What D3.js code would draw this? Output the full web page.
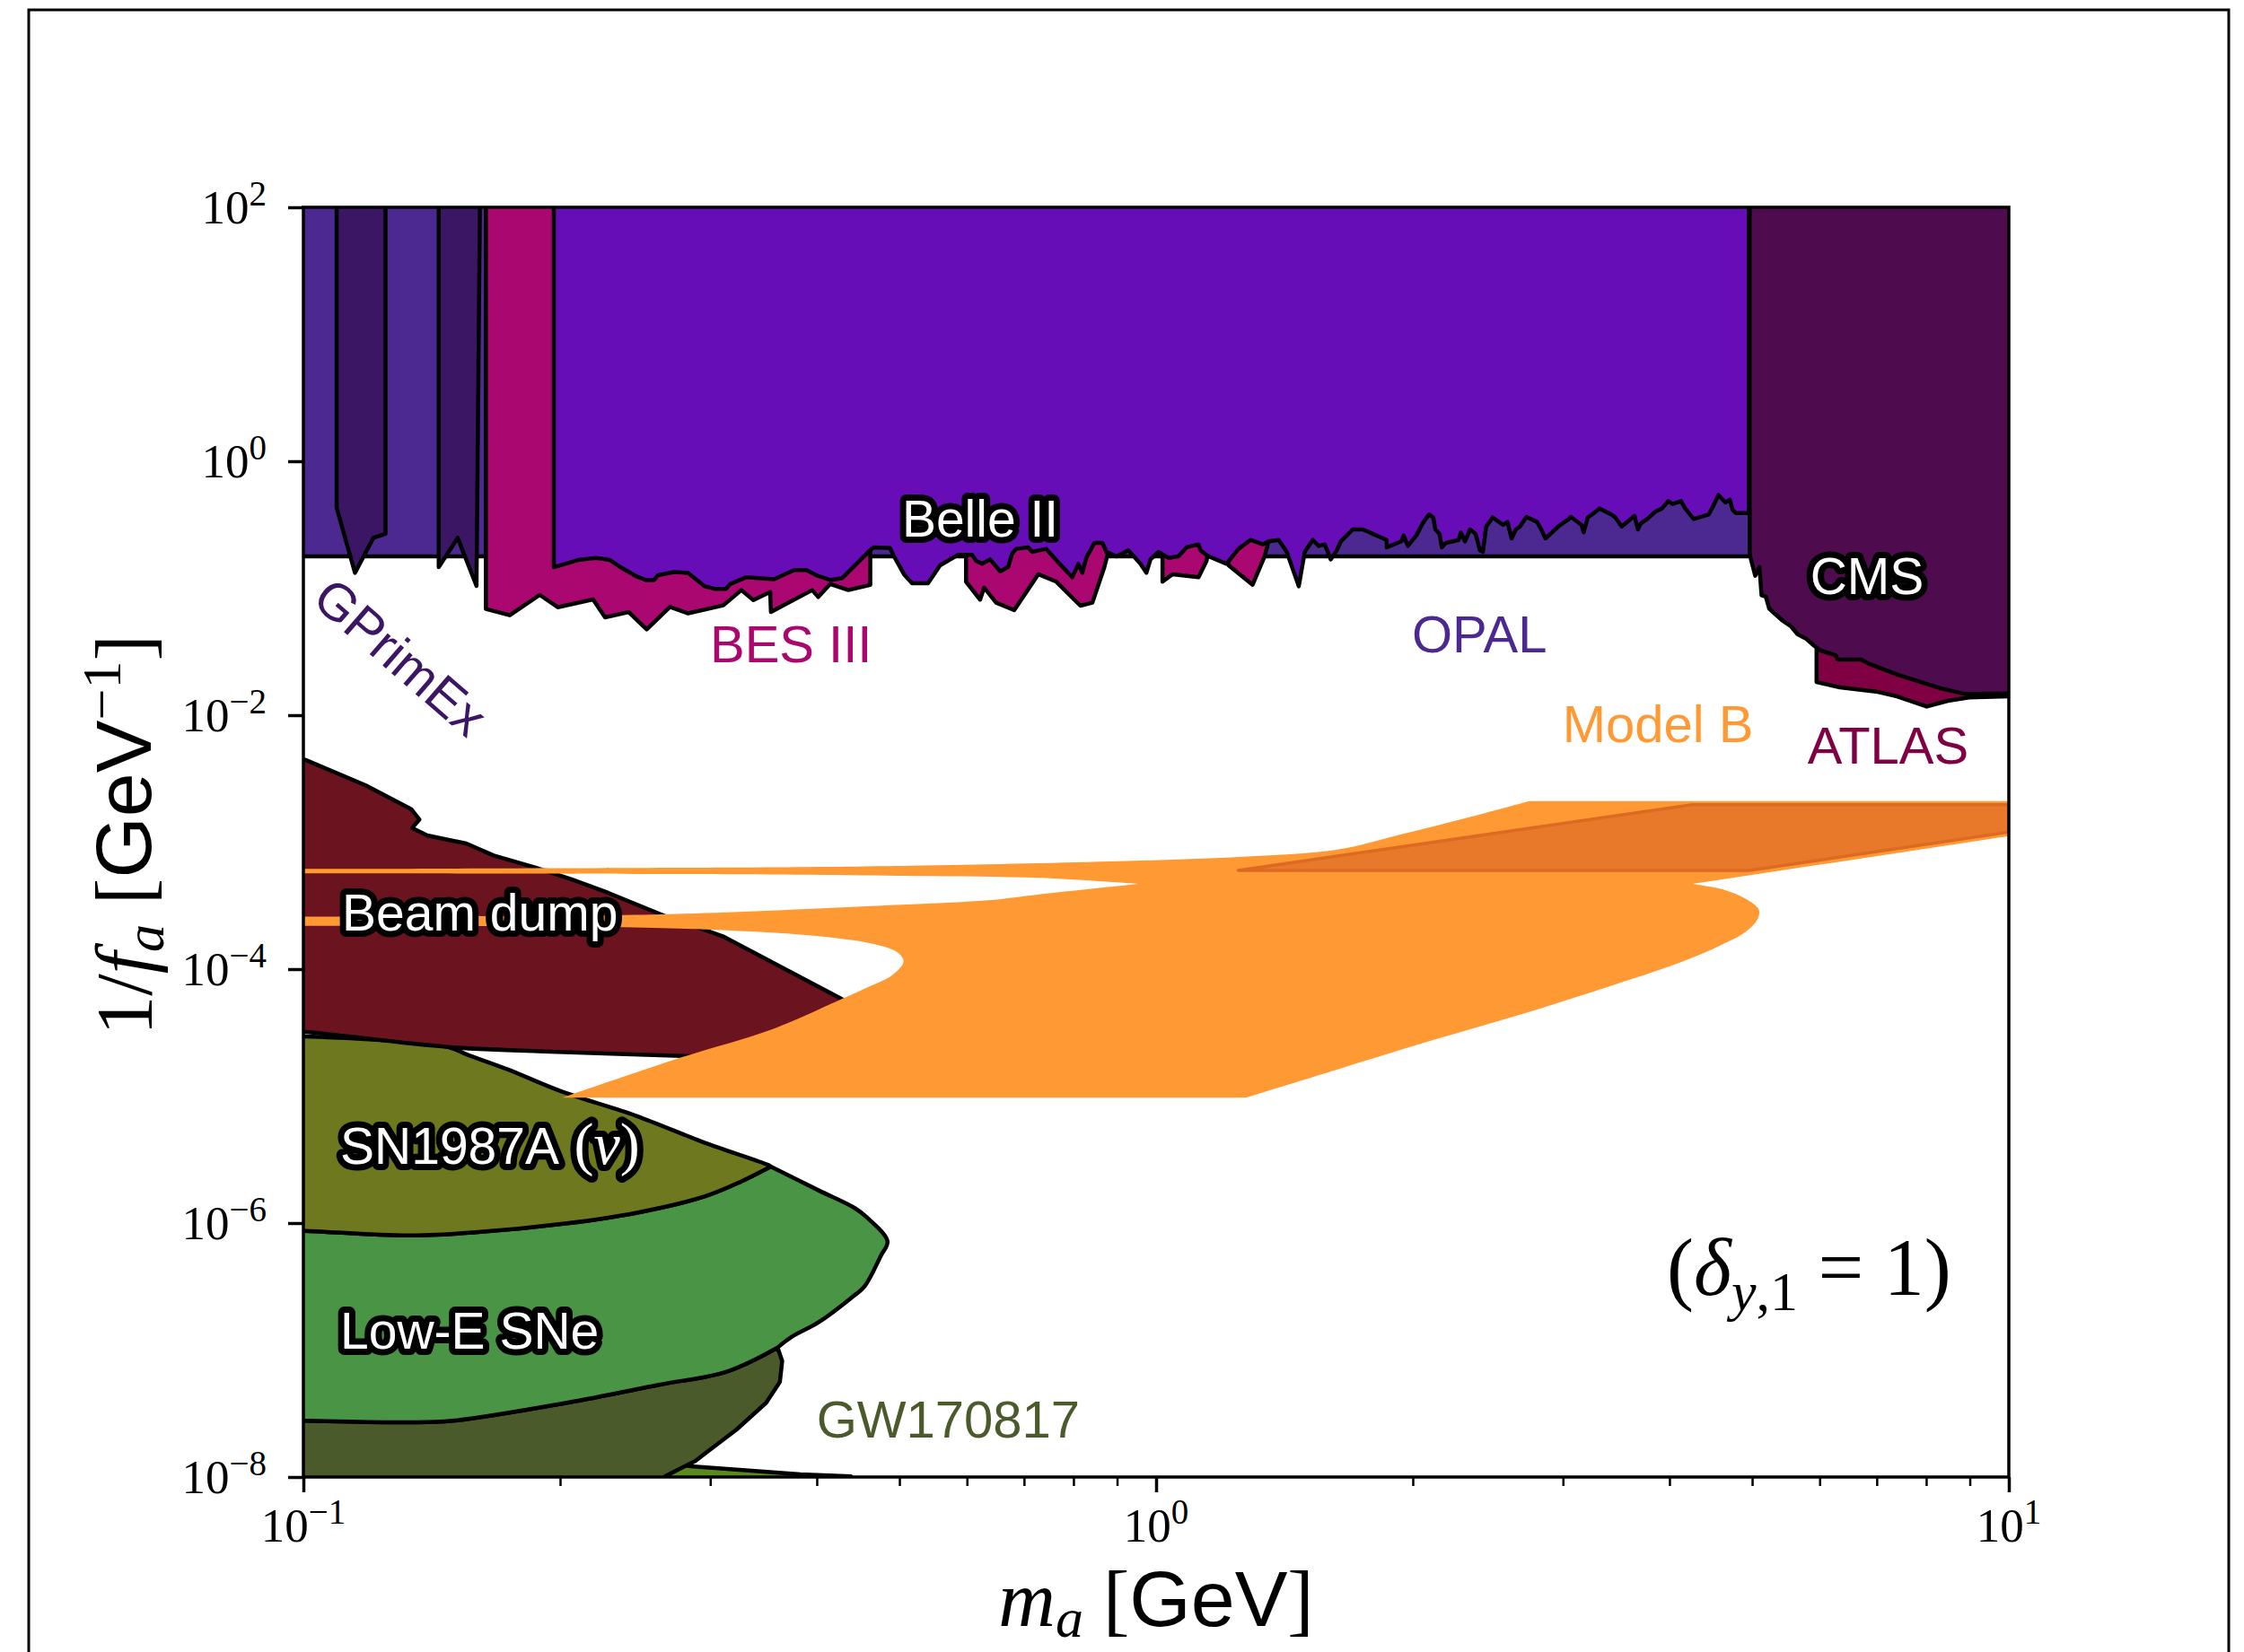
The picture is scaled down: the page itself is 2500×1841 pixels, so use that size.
<!DOCTYPE html>
<html>
<head>
<meta charset="utf-8">
<script src="https://cdn.jsdelivr.net/npm/d3@7"></script>
<style>
  body { margin: 0; background: #fff; }
  svg { display: block; }
</style>
</head>
<body>
<svg id="chart" width="2500" height="1841"></svg>
<script>
// All curves are given as [log10(m_a / GeV), log10(1/f_a / GeV^-1)] pairs.

// ---- upper (collider / fixed target) bounds ----
const opalLower = [[-1.02, -0.749], [0.70, -0.749]];

const gprimexBand1 = [[-0.961, -0.367], [-0.9395, -0.879], [-0.918, -0.604], [-0.9037, -0.572], [-0.9037, 2.3]];
const gprimexBand2 = [[-0.8413, -0.834], [-0.819, -0.604], [-0.797, -0.982], [-0.7926, 2.3]];

const bes3Lower = [
  [-0.786, -1.163], [-0.758, -1.213], [-0.7228, -1.053], [-0.7017, -1.150], [-0.6603, -1.088],
  [-0.6462, -1.230], [-0.6185, -1.188], [-0.5974, -1.324], [-0.5701, -1.147], [-0.5489, -1.198],
  [-0.5076, -1.135], [-0.4864, -1.015], [-0.4723, -1.094], [-0.4526, -1.030], [-0.4517, -1.188],
  [-0.4033, -1.015], [-0.3962, -1.069], [-0.3821, -0.967], [-0.361, -1.015], [-0.3352, -0.974],
  [-0.3352, -0.55], [-0.2229, -0.55], [-0.2229, -0.949], [-0.2064, -1.090], [-0.2017, -0.996],
  [-0.1876, -1.114], [-0.1664, -1.173], [-0.1382, -0.890], [-0.117, -0.949], [-0.0888, -1.138],
  [-0.0747, -1.114], [-0.0606, -0.832], [-0.05, -0.55], [0.0075, -0.55], [0.0075, -0.949],
  [0.0193, -0.890], [0.0498, -0.914], [0.0592, -0.784], [0.065, -0.55], [0.080, -0.55],
  [0.085, -0.820], [0.1132, -0.973], [0.1273, -0.749], [0.135, -0.55], [0.25, -0.50]
];

const belle2Lower = [
  [-0.7063, -0.835], [-0.678, -0.778], [-0.657, -0.762], [-0.6405, -0.778], [-0.6264, -0.841],
  [-0.61, -0.905], [-0.5983, -0.936], [-0.5888, -0.936], [-0.5842, -0.898], [-0.5654, -0.873],
  [-0.549, -0.879], [-0.530, -0.983], [-0.5184, -1.005], [-0.5043, -1.005], [-0.4996, -0.967],
  [-0.4808, -0.914], [-0.4479, -0.929], [-0.4244, -0.857], [-0.4103, -0.857], [-0.3985, -0.898],
  [-0.3821, -0.936], [-0.368, -0.920], [-0.3492, -0.794], [-0.3352, -0.699], [-0.331, -0.678],
  [-0.312, -0.683], [-0.3074, -0.749], [-0.2957, -0.890], [-0.2862, -0.961], [-0.2675, -0.961],
  [-0.2604, -0.890], [-0.2533, -0.820], [-0.2322, -0.737], [-0.2158, -0.737], [-0.2111, -0.784],
  [-0.2040, -0.808], [-0.1946, -0.773], [-0.1828, -0.867], [-0.1735, -0.832], [-0.1687, -0.726],
  [-0.1641, -0.690], [-0.15, -0.678], [-0.1453, -0.714], [-0.1289, -0.690], [-0.1147, -0.796],
  [-0.0983, -0.914], [-0.0912, -0.808], [-0.0865, -0.879], [-0.0818, -0.761], [-0.0724, -0.643],
  [-0.063, -0.643], [-0.0583, -0.714], [-0.0466, -0.749], [-0.0325, -0.702], [-0.0184, -0.808],
  [-0.0114, -0.879], [-0.0066, -0.773], [0.0027, -0.714], [0.0145, -0.761], [0.0262, -0.749],
  [0.0357, -0.678], [0.0498, -0.655], [0.0521, -0.702], [0.0615, -0.749], [0.0826, -0.808],
  [0.0967, -0.690], [0.1108, -0.620], [0.1249, -0.655], [0.1320, -0.631], [0.1438, -0.620],
  [0.1532, -0.714], [0.1673, -0.985], [0.1743, -0.714], [0.1837, -0.620], [0.1907, -0.667],
  [0.1978, -0.655], [0.2048, -0.773], [0.2119, -0.702], [0.2166, -0.631], [0.2306, -0.537],
  [0.2424, -0.537], [0.2704, -0.620], [0.2704, -0.678], [0.2878, -0.631], [0.2902, -0.584],
  [0.2952, -0.667], [0.3052, -0.584], [0.3125, -0.490], [0.32, -0.419], [0.325, -0.443],
  [0.3275, -0.537], [0.3324, -0.572], [0.335, -0.678], [0.3399, -0.643], [0.3548, -0.620],
  [0.3573, -0.560], [0.3622, -0.631], [0.3682, -0.537], [0.3747, -0.572], [0.3797, -0.702],
  [0.3832, -0.714], [0.3871, -0.514], [0.3946, -0.443], [0.407, -0.502], [0.412, -0.478],
  [0.4169, -0.608], [0.4219, -0.537], [0.4268, -0.514], [0.4343, -0.438], [0.4467, -0.478],
  [0.4517, -0.537], [0.4566, -0.608], [0.4716, -0.514], [0.484, -0.455], [0.4864, -0.438],
  [0.4989, -0.502], [0.5014, -0.560], [0.5063, -0.443], [0.5113, -0.419], [0.5202, -0.372],
  [0.5337, -0.419], [0.5386, -0.443], [0.546, -0.514], [0.561, -0.431], [0.565, -0.537],
  [0.5684, -0.490], [0.5759, -0.455], [0.5858, -0.396], [0.5933, -0.372], [0.6007, -0.313],
  [0.6057, -0.337], [0.6156, -0.313], [0.6205, -0.372], [0.6305, -0.455], [0.6479, -0.419],
  [0.6528, -0.360], [0.6594, -0.266], [0.6678, -0.325], [0.6727, -0.302], [0.6762, -0.384],
  [0.6802, -0.408], [0.6951, -0.408]
];

const atlasLower = [
  [0.7745, -1.45], [0.7745, -1.739], [0.8019, -1.781], [0.8441, -1.814], [0.8689, -1.852],
  [0.9037, -1.932], [0.9285, -1.887], [0.9534, -1.861], [1.02, -1.847]
];

const cmsLower = [
  [0.6961, -0.726], [0.6976, -0.773], [0.7026, -0.902], [0.7075, -0.832], [0.71, -1.055],
  [0.715, -1.067], [0.719, -1.161], [0.7248, -1.196], [0.7348, -1.256], [0.7447, -1.302],
  [0.7522, -1.362], [0.7621, -1.397], [0.7721, -1.456], [0.7795, -1.491], [0.7968, -1.527],
  [0.7994, -1.562], [0.8267, -1.562], [0.8366, -1.597], [0.8689, -1.680], [0.9186, -1.786],
  [0.9484, -1.833], [1.02, -1.828]
];

// ---- lower (astrophysical / beam dump) bounds ----
const beamDumpUpper = [
  [-1.02, -2.34], [-0.998, -2.351], [-0.9273, -2.551], [-0.8735, -2.740], [-0.8639, -2.822],
  [-0.8724, -2.888], [-0.8547, -2.947], [-0.809, -3.011], [-0.7768, -3.105], [-0.7285, -3.199],
  [-0.6856, -3.293], [-0.6426, -3.399], [-0.5781, -3.576], [-0.5083, -3.741], [-0.4385, -3.988],
  [-0.3687, -4.235], [-0.33, -4.45]
];
const beamDumpLower = [
  [-0.33, -4.45], [-0.45, -4.70], [-0.5566, -4.683], [-0.718, -4.648], [-0.8305, -4.613],
  [-0.998, -4.495], [-1.02, -4.49]
];

const sn1987aUpper = [
  [-1.02, -4.53], [-0.998, -4.530], [-0.8305, -4.613], [-0.809, -4.671], [-0.7607, -4.789],
  [-0.6963, -4.966], [-0.6103, -5.154], [-0.5298, -5.366], [-0.4546, -5.543], [-0.4519, -5.555]
];
// shared edge between SN1987A (nu) and the low-energy supernova bound
const snBoundary = [
  [-1.02, -6.06], [-0.998, -6.061], [-0.8788, -6.097], [-0.7983, -6.073], [-0.6909, -6.002],
  [-0.6103, -5.920], [-0.5298, -5.791], [-0.4868, -5.673], [-0.4519, -5.555]
];
const lowESNeRight = [
  [-0.4519, -5.555], [-0.3956, -5.743], [-0.3526, -5.885], [-0.3392, -5.955], [-0.315, -6.143],
  [-0.3231, -6.261], [-0.3418, -6.497], [-0.3579, -6.591], [-0.3956, -6.780], [-0.4278, -6.898],
  [-0.4439, -6.980]
];
// shared edge between low-energy SNe and GW170817
const gwBoundary = [
  [-1.02, -7.557], [-0.998, -7.557], [-0.8788, -7.569], [-0.8252, -7.557], [-0.6909, -7.415],
  [-0.5834, -7.274], [-0.5029, -7.168], [-0.4439, -6.980]
];
const gwRight = [
  [-0.4439, -6.980], [-0.4385, -7.086], [-0.4412, -7.251], [-0.4573, -7.415], [-0.4922, -7.627],
  [-0.5244, -7.792], [-0.5405, -7.875], [-0.5755, -7.993], [-0.59, -8.1]
];
const sliverLower = [[-0.60, -8.1], [-0.5600, -7.900], [-0.5459, -7.915], [-0.4171, -7.979], [-0.3579, -7.995], [-0.35, -8.1]];

// ---- Model B band ----
const modelBTop = [
  [-1.02, -3.211], [-0.5, -3.200], [-0.303, -3.187], [-0.0537, -3.152], [0.0964, -3.117],
  [0.213, -3.058], [0.2796, -2.952], [0.3629, -2.811], [0.4377, -2.676]
];
const modelBRight = [[0.4377, -2.676], [1.02, -2.676], [1.02, -2.932], [0.629, -3.329]];
const modelBLobe = [
  [0.629, -3.329], [0.6667, -3.376], [0.6916, -3.447], [0.7066, -3.529], [0.7058, -3.600],
  [0.6916, -3.705], [0.6624, -3.811], [0.6125, -3.953], [0.5293, -4.141], [0.4294, -4.353],
  [0.3212, -4.565], [0.213, -4.789], [0.1047, -5.013]
];
const modelBBottom = [[0.1047, -5.013], [-0.6962, -5.013]];
const modelBInner = [
  [-0.6962, -5.013], [-0.5566, -4.695], [-0.4493, -4.471], [-0.3687, -4.235], [-0.3418, -4.153],
  [-0.3096, -4.047], [-0.2962, -3.941], [-0.3030, -3.870], [-0.3257, -3.811], [-0.3956, -3.741],
  [-0.5029, -3.694], [-0.637, -3.670], [-1.02, -3.658]
];
const modelBBand2Top = [
  [-1.02, -3.587], [-0.637, -3.576], [-0.5029, -3.553], [-0.3418, -3.505], [-0.198, -3.458],
  [-0.137, -3.411], [-0.02, -3.329]
];
const modelBBand1Bottom = [[-0.02, -3.329], [-0.137, -3.281], [-0.303, -3.265], [-0.6, -3.250], [-1.02, -3.246]];
const modelBOverlap = [[0.0964, -3.223], [0.629, -2.705], [1.02, -2.705], [1.02, -2.901], [0.6958, -3.223]];

// ---- axes ----
const xMajor = [0.1, 1, 10];
const xMajorExp = ["\u22121", "0", "1"];
const xMinor = [0.2, 0.3, 0.4, 0.5, 0.6, 0.7, 0.8, 0.9, 2, 3, 4, 5, 6, 7, 8, 9];
const yMajor = [1e2, 1e0, 1e-2, 1e-4, 1e-6, 1e-8];
const yMajorExp = ["2", "0", "\u22122", "\u22124", "\u22126", "\u22128"];

// ---- styles ----
const SERIF = "'Liberation Serif', 'DejaVu Serif', serif";
const SANS = "'Liberation Sans', 'DejaVu Sans', sans-serif";
const TOP = 2.3;
const EDGE = 4.5;

const svg = d3.select("#chart");
const plot = { left: 338, right: 2238, top: 231, bottom: 1646 };
const x = d3.scaleLog().domain([0.1, 10]).range([plot.left, plot.right]);
const y = d3.scaleLog().domain([1e-8, 1e2]).range([plot.bottom, plot.top]);
const px = d => x(Math.pow(10, d[0]));
const py = d => y(Math.pow(10, d[1]));

// outer frame of the figure
svg.append("rect").attr("x", 32).attr("y", 11).attr("width", 2451).attr("height", 1900)
  .attr("fill", "none").attr("stroke", "#000").attr("stroke-width", 3);

svg.append("defs").append("clipPath").attr("id", "plotClip")
  .append("rect").attr("x", plot.left).attr("y", plot.top)
  .attr("width", plot.right - plot.left).attr("height", plot.bottom - plot.top);

const g = svg.append("g").attr("clip-path", "url(#plotClip)");

// join several edge segments into one closed outline
function outline(segs) {
  let d = "";
  segs.forEach((s, i) => {
    const gen = d3.line().x(px).y(py)
      .curve(s.smooth ? d3.curveCatmullRom.alpha(0.5) : d3.curveLinear);
    let p = gen(s.pts);
    if (i > 0) p = "L" + p.slice(1);
    d += p;
  });
  return d + "Z";
}
const closeTop = pts => [[pts[0][0], TOP], ...pts, [pts[pts.length - 1][0], TOP]];

function region(d, fill, stroke = "#000", sw = EDGE) {
  g.append("path").attr("d", d).attr("fill", fill)
    .attr("stroke", stroke).attr("stroke-width", sw).attr("stroke-linejoin", "round");
}

// upper exclusion regions
region(outline([{ pts: closeTop(opalLower) }]), "#4b2991");
region(outline([{ pts: closeTop(gprimexBand1) }]), "#3b1665");
region(outline([{ pts: closeTop(gprimexBand2) }]), "#3b1665");
region(outline([{ pts: closeTop(bes3Lower) }]), "#ab0770");
region(outline([{ pts: closeTop(belle2Lower) }]), "#670db7");
region(outline([{ pts: closeTop(atlasLower) }]), "#7f0043");
region(outline([{ pts: closeTop(cmsLower) }]), "#4e0c4e");

// lower exclusion regions
region(outline([{ pts: sliverLower }]), "#5a8a1c");
region(outline([{ pts: gwBoundary, smooth: true }, { pts: gwRight }, { pts: [[-0.59, -8.1], [-1.02, -8.1]] }]), "#4a5a2b");
region(outline([{ pts: snBoundary, smooth: true }, { pts: lowESNeRight, smooth: true },
  { pts: gwBoundary.slice().reverse(), smooth: true }]), "#4a9446");
region(outline([{ pts: sn1987aUpper, smooth: true }, { pts: snBoundary.slice().reverse(), smooth: true }]), "#6e781e");
region(outline([{ pts: beamDumpUpper }, { pts: beamDumpLower, smooth: true }]), "#6b1420");

// Model B band
region(outline([
  { pts: modelBTop, smooth: true },
  { pts: modelBRight },
  { pts: modelBLobe, smooth: true },
  { pts: modelBBottom },
  { pts: modelBInner, smooth: true },
  { pts: [[-1.02, -3.658], [-1.02, -3.587]] },
  { pts: modelBBand2Top, smooth: true },
  { pts: modelBBand1Bottom, smooth: true }
]), "#ff9933", "none", 0);
region(outline([{ pts: modelBOverlap }]), "#e8792b", "#dc6a22", 3.5);

// ---- axes ----
const axG = svg.append("g");
const xAxisMajor = d3.axisBottom(x).tickValues(xMajor).tickSize(17).tickFormat("");
const xAxisMinor = d3.axisBottom(x).tickValues(xMinor).tickSize(10).tickFormat("");
const yAxisMajor = d3.axisLeft(y).tickValues(yMajor).tickSize(17).tickFormat("");
[[xAxisMajor, 3.5, `translate(0,${plot.bottom})`], [xAxisMinor, 2.5, `translate(0,${plot.bottom})`],
 [yAxisMajor, 3.5, `translate(${plot.left},0)`]].forEach(([ax, w, tr]) => {
  const a = axG.append("g").attr("transform", tr).call(ax);
  a.select(".domain").remove();
  a.selectAll("line").attr("stroke", "#000").attr("stroke-width", w);
});

axG.append("rect").attr("x", plot.left).attr("y", plot.top)
  .attr("width", plot.right - plot.left).attr("height", plot.bottom - plot.top)
  .attr("fill", "none").attr("stroke", "#000").attr("stroke-width", 3.5);

// tick labels 10^n
xMajor.forEach((v, i) => {
  const t = axG.append("text").attr("x", x(v)).attr("y", 1718)
    .attr("text-anchor", "middle").attr("font-family", SERIF).attr("font-size", 53);
  t.append("tspan").text("10");
  t.append("tspan").attr("font-size", 39).attr("dy", -20).text(xMajorExp[i]);
});
yMajor.forEach((v, i) => {
  const t = axG.append("text").attr("x", 297).attr("y", y(v) + 18)
    .attr("text-anchor", "end").attr("font-family", SERIF).attr("font-size", 53);
  t.append("tspan").text("10");
  t.append("tspan").attr("font-size", 39).attr("dy", -20).text(yMajorExp[i]);
});

// axis titles
function rich(parent, parts) {
  parts.forEach(p => {
    const s = parent.append("tspan").text(p.t)
      .attr("font-family", p.f || SERIF).attr("font-size", p.s || 88);
    if (p.i) s.attr("font-style", "italic");
    if (p.dy) s.attr("dy", p.dy);
  });
}
const xt = svg.append("text").attr("x", (plot.left + plot.right) / 2).attr("y", 1812)
  .attr("text-anchor", "middle");
rich(xt, [
  { t: "m", i: true }, { t: "a", i: true, s: 62, dy: 12 },
  { t: " [", dy: -12 }, { t: "GeV", f: SANS }, { t: "]" }
]);
const yt = svg.append("text").attr("transform", `translate(168,${(plot.top + plot.bottom) / 2 - 8}) rotate(-90)`)
  .attr("text-anchor", "middle");
rich(yt, [
  { t: "1/" }, { t: "f", i: true }, { t: "a", i: true, s: 62, dy: 14 },
  { t: " [", dy: -14 }, { t: "GeV", f: SANS }, { t: "\u22121", s: 62, dy: -34 }, { t: "]", dy: 34 }
]);

// ---- region labels ----
const plainLabels = [
  { text: "GPrimEx", at: [-0.886, -1.541], color: "#3b1665", rotate: 41 },
  { text: "BES III", at: [-0.5232, -1.583], color: "#ab0770" },
  { text: "OPAL", at: [0.300, -1.505], color: "#4b2991" },
  { text: "Model B", at: [0.4765, -2.212], color: "#ff9933" },
  { text: "ATLAS", at: [0.764, -2.382], color: "#7f0043" },
  { text: "GW170817", at: [-0.3982, -7.689], color: "#4b5a2b" }
];
const haloLabels = [
  { text: "Belle II", at: [-0.298, -0.594] },
  { text: "CMS", at: [0.767, -1.046] },
  { text: "Beam dump", at: [-0.9547, -3.696] },
  { text: "SN1987A", math: "\u03bd", at: [-0.9568, -5.534] },
  { text: "Low-E SNe", at: [-0.9568, -6.989] }
];
const lab = svg.append("g");
plainLabels.forEach(l => {
  const t = lab.append("text").attr("font-family", SANS).attr("font-size", 58).attr("fill", l.color);
  if (l.rotate) {
    t.attr("text-anchor", "middle").attr("dy", "0.35em")
      .attr("transform", `translate(${px(l.at)},${py(l.at)}) rotate(${l.rotate})`);
  } else {
    t.attr("x", px(l.at)).attr("y", py(l.at));
  }
  t.text(l.text);
});
haloLabels.forEach(l => {
  const t = lab.append("text").attr("x", px(l.at)).attr("y", py(l.at))
    .attr("font-family", SANS).attr("font-size", 57).attr("fill", "#fff")
    .attr("stroke", "#000").attr("stroke-width", 14).attr("stroke-linejoin", "round")
    .style("paint-order", "stroke");
  t.append("tspan").text(l.text);
  if (l.math) {
    t.append("tspan").attr("font-family", SERIF).attr("font-size", 66).text(" (");
    t.append("tspan").attr("font-family", SERIF).attr("font-size", 66).attr("font-style", "italic").text(l.math);
    t.append("tspan").attr("font-family", SERIF).attr("font-size", 66).text(")");
  }
});

// coupling assumption
const dl = lab.append("text").attr("x", x(Math.pow(10, 0.599))).attr("y", y(Math.pow(10, -6.565)));
rich(dl, [
  { t: "(", s: 90 }, { t: "\u03b4", i: true, s: 90 }, { t: "y", i: true, s: 62, dy: 17 },
  { t: ",1", s: 62 }, { t: " = 1)", s: 90, dy: -17 }
]);
</script>
</body>
</html>
